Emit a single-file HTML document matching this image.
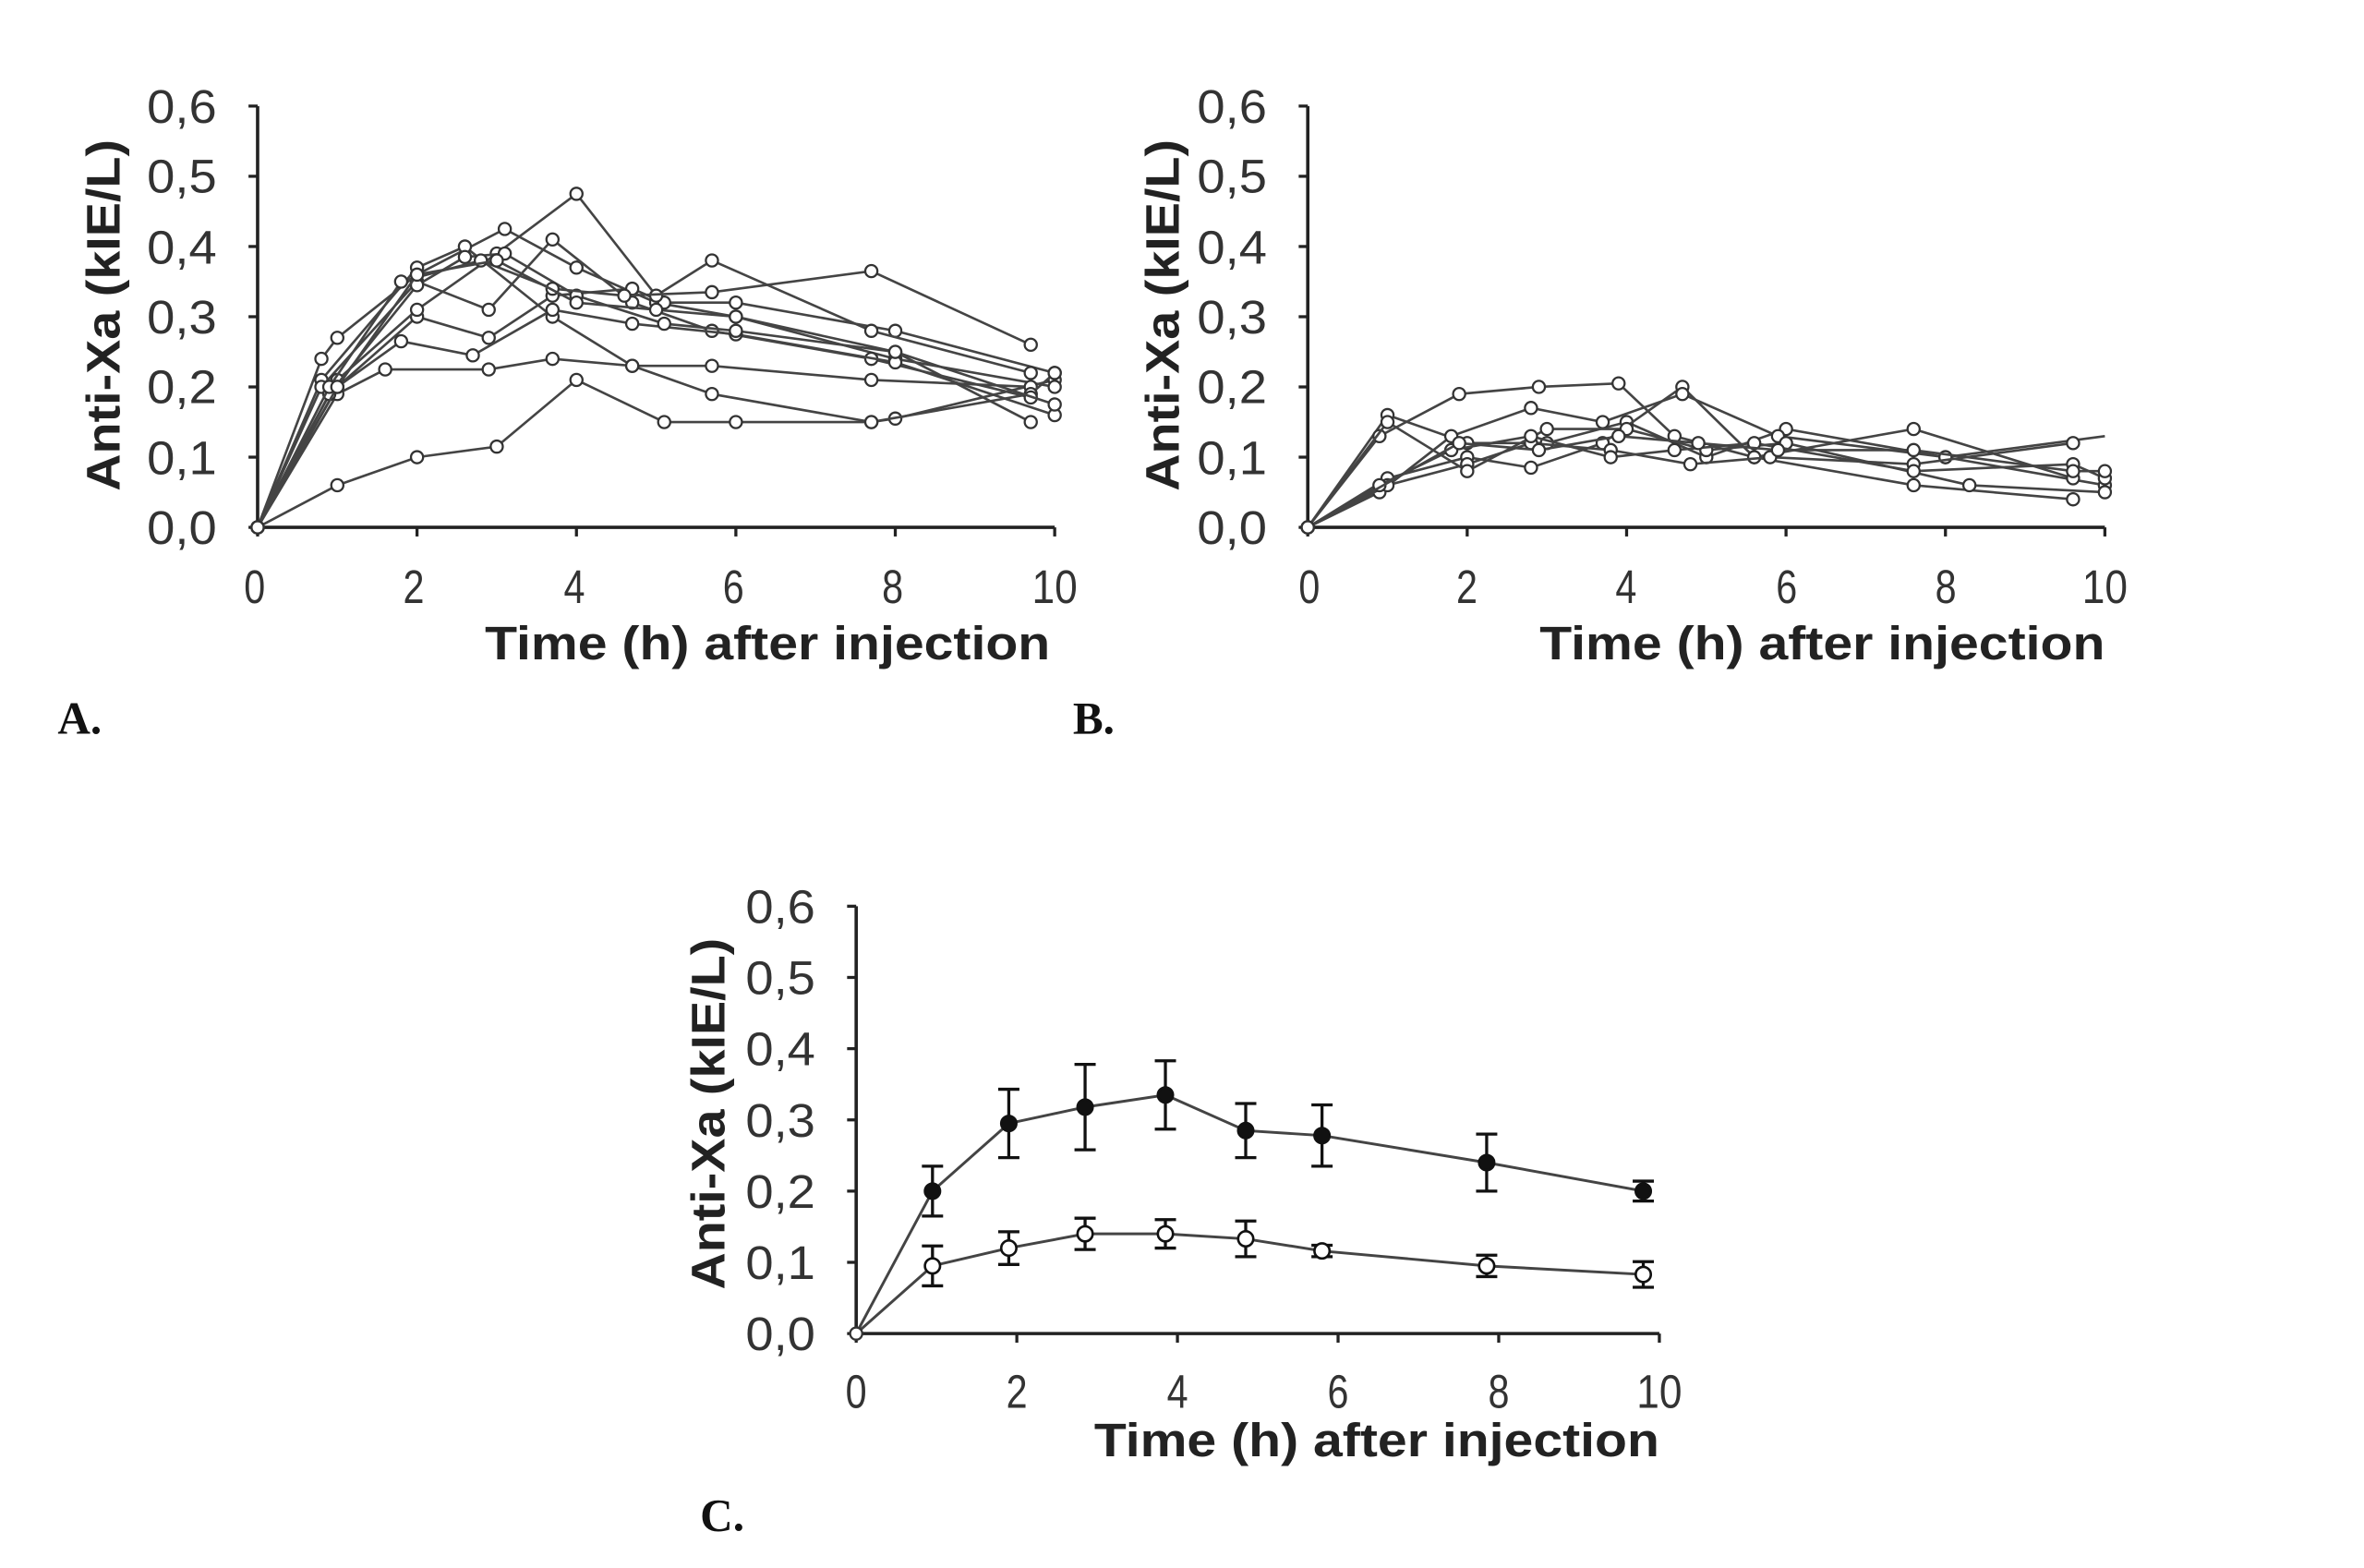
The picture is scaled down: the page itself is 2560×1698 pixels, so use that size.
<!DOCTYPE html>
<html><head><meta charset="utf-8"><style>
html,body{margin:0;padding:0;background:#fff;}
svg{display:block;}
.t{font-family:"Liberation Sans",sans-serif;font-size:31px;fill:#333;}
.b{font-family:"Liberation Sans",sans-serif;font-size:31px;font-weight:bold;fill:#222;}
.s{font-family:"Liberation Serif",serif;font-size:30px;font-weight:bold;fill:#111;}
</style></head><body>
<svg id="s" width="2560" height="1698" viewBox="0 0 1560 1034.7" preserveAspectRatio="none" xmlns="http://www.w3.org/2000/svg">
<g id="g"></g>
<!-- Panel A labels -->
<g class="t" text-anchor="end">
<text x="143" y="81" textLength="46" lengthAdjust="spacingAndGlyphs">0,6</text><text x="143" y="127" textLength="46" lengthAdjust="spacingAndGlyphs">0,5</text><text x="143" y="174" textLength="46" lengthAdjust="spacingAndGlyphs">0,4</text><text x="143" y="220" textLength="46" lengthAdjust="spacingAndGlyphs">0,3</text><text x="143" y="266" textLength="46" lengthAdjust="spacingAndGlyphs">0,2</text><text x="143" y="313" textLength="46" lengthAdjust="spacingAndGlyphs">0,1</text><text x="143" y="359" textLength="46" lengthAdjust="spacingAndGlyphs">0,0</text>
</g>
<g class="t" text-anchor="middle">
<text x="168" y="398" textLength="14" lengthAdjust="spacingAndGlyphs">0</text><text x="273" y="398" textLength="14" lengthAdjust="spacingAndGlyphs">2</text><text x="379" y="398" textLength="14" lengthAdjust="spacingAndGlyphs">4</text><text x="484" y="398" textLength="14" lengthAdjust="spacingAndGlyphs">6</text><text x="589" y="398" textLength="14" lengthAdjust="spacingAndGlyphs">8</text><text x="696" y="398" textLength="30" lengthAdjust="spacingAndGlyphs">10</text>
</g>
<text class="b" x="320" y="435" textLength="373" lengthAdjust="spacingAndGlyphs">Time (h)  after injection</text>
<text class="b" transform="translate(79,208) rotate(-90)" text-anchor="middle" textLength="232" lengthAdjust="spacingAndGlyphs">Anti-Xa  (kIE/L)</text>
<text class="s" x="38" y="484">A.</text>
<!-- Panel B labels -->
<g class="t" text-anchor="end">
<text x="836" y="81" textLength="46" lengthAdjust="spacingAndGlyphs">0,6</text><text x="836" y="127" textLength="46" lengthAdjust="spacingAndGlyphs">0,5</text><text x="836" y="174" textLength="46" lengthAdjust="spacingAndGlyphs">0,4</text><text x="836" y="220" textLength="46" lengthAdjust="spacingAndGlyphs">0,3</text><text x="836" y="266" textLength="46" lengthAdjust="spacingAndGlyphs">0,2</text><text x="836" y="313" textLength="46" lengthAdjust="spacingAndGlyphs">0,1</text><text x="836" y="359" textLength="46" lengthAdjust="spacingAndGlyphs">0,0</text>
</g>
<g class="t" text-anchor="middle">
<text x="864" y="398" textLength="14" lengthAdjust="spacingAndGlyphs">0</text><text x="968" y="398" textLength="14" lengthAdjust="spacingAndGlyphs">2</text><text x="1073" y="398" textLength="14" lengthAdjust="spacingAndGlyphs">4</text><text x="1179" y="398" textLength="14" lengthAdjust="spacingAndGlyphs">6</text><text x="1284" y="398" textLength="14" lengthAdjust="spacingAndGlyphs">8</text><text x="1389" y="398" textLength="30" lengthAdjust="spacingAndGlyphs">10</text>
</g>
<text class="b" x="1016" y="435" textLength="373" lengthAdjust="spacingAndGlyphs">Time (h)  after injection</text>
<text class="b" transform="translate(778,208) rotate(-90)" text-anchor="middle" textLength="232" lengthAdjust="spacingAndGlyphs">Anti-Xa  (kIE/L)</text>
<text class="s" x="708" y="484">B.</text>
<!-- Panel C labels -->
<g class="t" text-anchor="end">
<text x="538" y="609" textLength="46" lengthAdjust="spacingAndGlyphs">0,6</text><text x="538" y="656" textLength="46" lengthAdjust="spacingAndGlyphs">0,5</text><text x="538" y="703" textLength="46" lengthAdjust="spacingAndGlyphs">0,4</text><text x="538" y="750" textLength="46" lengthAdjust="spacingAndGlyphs">0,3</text><text x="538" y="797" textLength="46" lengthAdjust="spacingAndGlyphs">0,2</text><text x="538" y="844" textLength="46" lengthAdjust="spacingAndGlyphs">0,1</text><text x="538" y="891" textLength="46" lengthAdjust="spacingAndGlyphs">0,0</text>
</g>
<g class="t" text-anchor="middle">
<text x="565" y="929" textLength="14" lengthAdjust="spacingAndGlyphs">0</text><text x="671" y="929" textLength="14" lengthAdjust="spacingAndGlyphs">2</text><text x="777" y="929" textLength="14" lengthAdjust="spacingAndGlyphs">4</text><text x="883" y="929" textLength="14" lengthAdjust="spacingAndGlyphs">6</text><text x="989" y="929" textLength="14" lengthAdjust="spacingAndGlyphs">8</text><text x="1095" y="929" textLength="30" lengthAdjust="spacingAndGlyphs">10</text>
</g>
<text class="b" x="722" y="961" textLength="373" lengthAdjust="spacingAndGlyphs">Time (h)  after injection</text>
<text class="b" transform="translate(478,735) rotate(-90)" text-anchor="middle" textLength="232" lengthAdjust="spacingAndGlyphs">Anti-Xa  (kIE/L)</text>
<text class="s" x="462" y="1010">C.</text>
</svg>
<script>
var g=document.getElementById('g'),h='';
function axes(x0,y0,xw,yh){
 h+='<path d="M'+x0+' '+(y0-yh)+'V'+y0+'H'+(x0+xw)+'" fill="none" stroke="#222" stroke-width="2.2"/>';
 for(var i=0;i<=6;i++){var y=y0-yh*i/6;h+='<line x1="'+(x0-6)+'" x2="'+x0+'" y1="'+y+'" y2="'+y+'" stroke="#222" stroke-width="2"/>';}
 for(var i=0;i<=5;i++){var x=x0+xw*i/5;h+='<line x1="'+x+'" x2="'+x+'" y1="'+y0+'" y2="'+(y0+6)+'" stroke="#222" stroke-width="2"/>';}
}
function series(x0,y0,xw,yh,d,r,noLastMarker){
 var p='';d=[[0,0]].concat(d);
 d.forEach(function(q,i){var x=x0+q[0]*xw/10,y=y0-q[1]*yh/0.6;p+=(i?'L':'M')+x.toFixed(1)+' '+y.toFixed(1);});
 h+='<path d="'+p+'" fill="none" stroke="#444" stroke-width="1.6"/>';
 d.forEach(function(q,i){if(noLastMarker&&i==d.length-1)return;var x=x0+q[0]*xw/10,y=y0-q[1]*yh/0.6;h+='<circle cx="'+x.toFixed(1)+'" cy="'+y.toFixed(1)+'" r="'+r+'" fill="#fff" stroke="#333" stroke-width="1.4"/>';});
}
axes(170,348,526,278);
var A=[
[[1,.06],[2,.10],[3,.115],[4,.21],[5.1,.15],[6,.15],[7.7,.15],[8,.155],[10,.21]],
[[.8,.24],[1,.27],[2,.36],[3.1,.425],[4,.37],[5,.32],[6,.30],[8,.24],[10,.20]],
[[1,.19],[1.6,.225],[2.9,.225],[3.7,.24],[4.7,.23],[5.7,.23],[7.7,.21],[9.7,.20]],
[[.8,.21],[2,.37],[2.6,.40],[3.7,.30],[4.7,.23],[5.7,.19],[7.7,.15],[9.7,.19],[10,.22]],
[[1,.20],[2,.30],[2.9,.27],[3.7,.33],[4.7,.34],[5.1,.32],[6,.32],[8,.28],[10,.22]],
[[.8,.2],[2,.35],[2.9,.31],[3.7,.41],[4.7,.32],[5.7,.28],[7.7,.24],[9.7,.185]],
[[1,.21],[2,.31],[3,.39],[4,.475],[5,.33],[5.7,.38],[7.7,.28],[9.7,.22]],
[[1,.2],[1.8,.265],[2.7,.245],[3.7,.31],[4.7,.29],[6,.275],[8,.235],[10,.16]],
[[.9,.19],[2,.345],[2.6,.385],[3.1,.39],[4,.33],[5.1,.29],[6,.28],[8,.25],[9.7,.15]],
[[.9,.2],[1.8,.35],[2.8,.38],[3.7,.34],[4.6,.33],[5.7,.335],[7.7,.365],[9.7,.26]],
[[1,.2],[2,.36],[3,.38],[4,.32],[5,.31],[6,.30],[8,.25],[10,.175]]
];
A.forEach(function(d){series(170,348,526,278,d,4);});
axes(863,348,526,278);
var B=[
[[1,.16],[2,.12],[3,.12],[4,.15],[5,.10],[6,.14],[8,.10],[10,.06]],
[[.9,.13],[1.9,.19],[2.9,.2],[3.9,.205],[4.6,.13],[5.6,.1],[7.6,.14],[9.6,.07]],
[[1,.07],[2,.1],[2.8,.085],[3.7,.12],[4.7,.2],[5.6,.1],[7.6,.06],[9.6,.04]],
[[.9,.05],[1.8,.13],[2.8,.17],[3.7,.15],[4.7,.19],[5.9,.13],[8,.1],[10,.13]],
[[1,.06],[2,.09],[2.8,.12],[3.8,.11],[4.8,.09],[5.8,.1],[7.6,.09],[9.6,.12]],
[[1,.15],[2,.08],[3,.14],[4,.14],[5,.11],[6,.12],[8.3,.06],[10,.05]],
[[.9,.06],[1.8,.11],[2.8,.13],[3.8,.10],[4.6,.11],[5.6,.12],[7.6,.08],[9.6,.09],[10,.07]],
[[1.9,.12],[2.9,.11],[3.9,.13],[4.9,.12],[5.9,.11],[7.6,.11],[9.6,.08],[10,.08]]
];
B.forEach(function(d,i){series(863,348,526,278,d,4,i==3);});
axes(565,880,530,282);
function errs(d,fill){
 var x0=565,y0=880,xw=530,yh=282,p='M565 880';
 d.forEach(function(q){p+='L'+(x0+q[0]*xw/10)+' '+(y0-q[1]*yh/.6);});
 h+='<path d="'+p+'" fill="none" stroke="#444" stroke-width="1.8"/>';
 d.forEach(function(q){var x=x0+q[0]*xw/10,y=y0-q[1]*yh/.6,e=q[2]*yh/.6;
  h+='<path d="M'+x+' '+(y-e)+'V'+(y+e)+'M'+(x-7)+' '+(y-e)+'h14M'+(x-7)+' '+(y+e)+'h14" stroke="#111" stroke-width="2" fill="none"/>';
  h+='<circle cx="'+x+'" cy="'+y+'" r="5" fill="'+fill+'" stroke="#111" stroke-width="1.6"/>';});
}
errs([[.95,.20,.035],[1.9,.295,.048],[2.85,.318,.06],[3.85,.335,.048],[4.85,.285,.038],[5.8,.278,.043],[7.85,.24,.04],[9.8,.20,.014]],'#111');
errs([[.95,.095,.028],[1.9,.12,.023],[2.85,.14,.022],[3.85,.14,.02],[4.85,.133,.025],[5.8,.116,.008],[7.85,.095,.015],[9.8,.083,.018]],'#fff');
h+='<circle cx="565" cy="880" r="4" fill="#fff" stroke="#333" stroke-width="1.4"/>';
g.innerHTML=h;
</script>
</body></html>
